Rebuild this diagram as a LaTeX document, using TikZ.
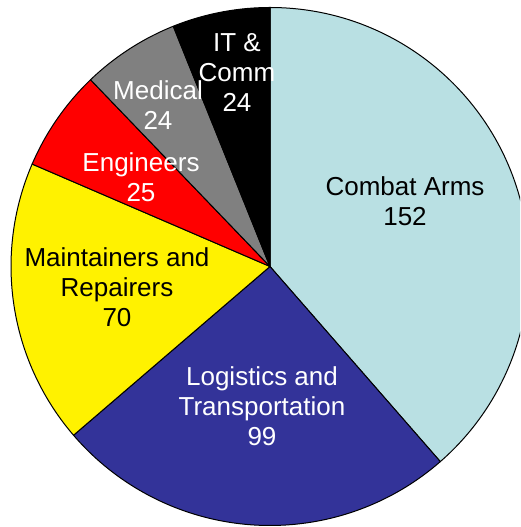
\documentclass[tikz,border=0pt]{standalone}
\usepackage{fontspec}
\setmainfont{Liberation Sans}
\definecolor{cablue}{HTML}{B9E0E3}
\definecolor{logblue}{HTML}{333399}
\definecolor{medgray}{HTML}{808080}
\begin{document}
\begin{tikzpicture}[x=1pt,y=1pt,
  slice/.style={draw=black,line width=1pt,line join=round},
  lab/.style={align=center,font=\fontsize{26}{30}\selectfont,inner sep=0pt}]
\useasboundingbox (0,0) rectangle (520,527);
\clip (0,0) rectangle (520,527);
\coordinate (C) at (270,260.5);
\def\R{259}
\fill[slice,fill=cablue] (C) -- ++(90:\R) arc (90:-48.883:\R) -- cycle;
\fill[slice,fill=logblue] (C) -- ++(-48.883:\R) arc (-48.883:-139.340:\R) -- cycle;
\fill[slice,fill=yellow] (C) -- ++(-139.340:\R) arc (-139.340:-203.299:\R) -- cycle;
\fill[slice,fill=red] (C) -- ++(-203.299:\R) arc (-203.299:-226.142:\R) -- cycle;
\fill[slice,fill=medgray] (C) -- ++(-226.142:\R) arc (-226.142:-248.071:\R) -- cycle;
\fill[slice,fill=black] (C) -- ++(-248.071:\R) arc (-248.071:-270:\R) -- cycle;
\node[lab,text=black] (ca) at (405,326) {Combat Arms\\152};
\node[lab,text=white] (lt) at (262,121) {Logistics and\\Transportation\\99};
\node[lab,text=black] (mr) at (117,240) {Maintainers and\\Repairers\\70};
\node[lab,text=white] (en) at (141,350) {Engineers\\25};
\node[lab,text=white] (me) at (158,422) {Medical\\24};
\node[lab,text=white] (it) at (237,454) {IT \&\\Comm\\24};
\end{tikzpicture}
\end{document}
